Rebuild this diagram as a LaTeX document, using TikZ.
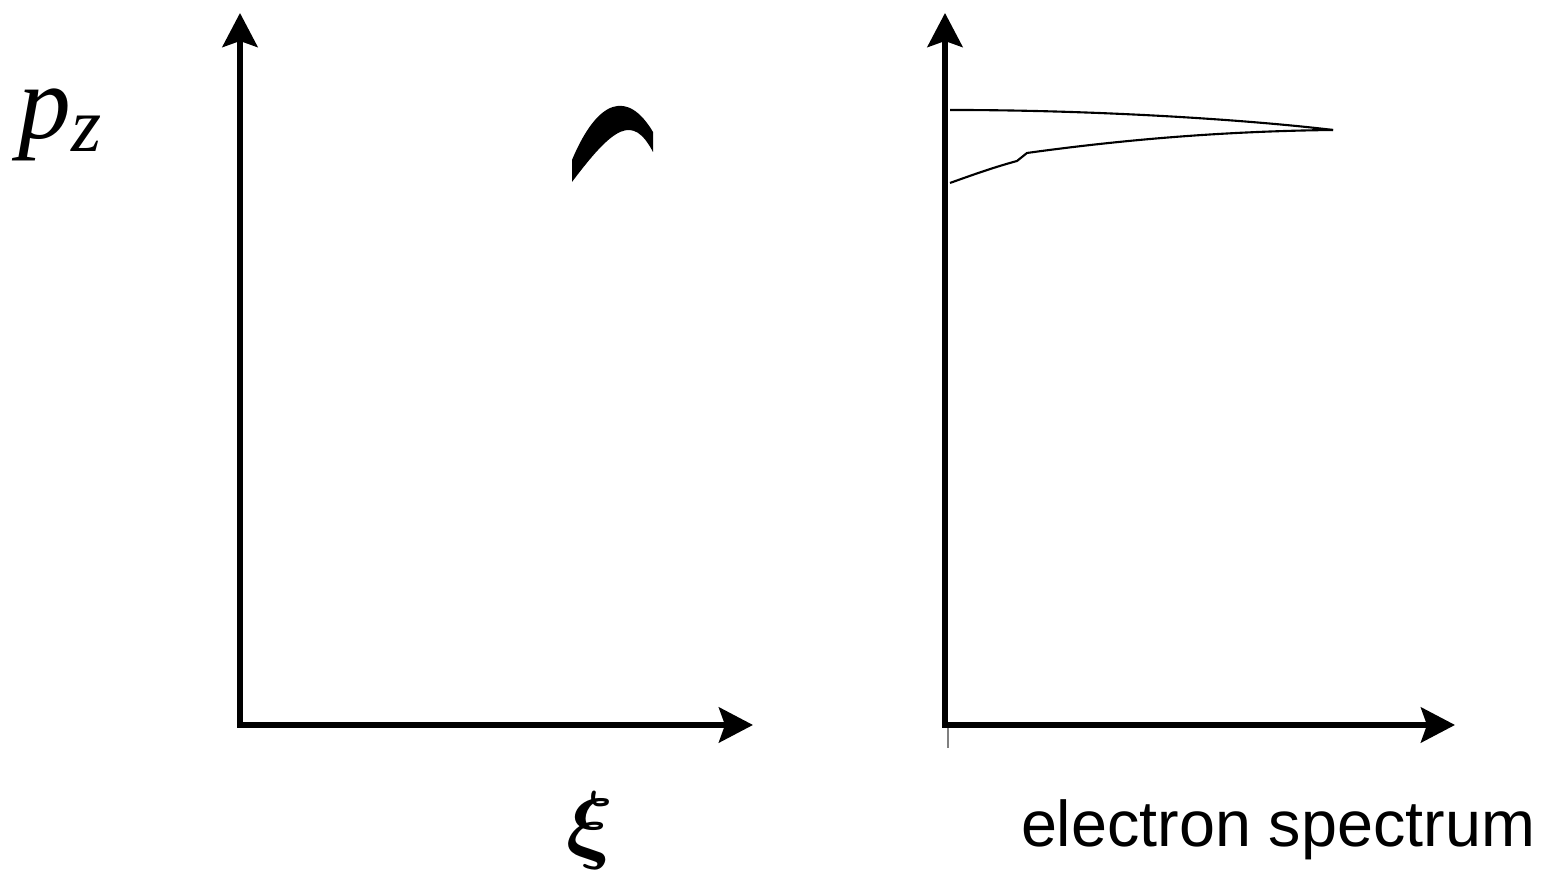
\documentclass[tikz,border=0pt]{standalone}
\usepackage{fontspec}
\usepackage{amsmath,amssymb}
\usepackage{bm}
\usepackage{tikz}
\usetikzlibrary{arrows.meta}
\newfontfamily\labelfont{Liberation Sans}
\newfontfamily\timesfont{Liberation Serif}
\tikzset{
  axis/.style={line width=0.06cm, {Stealth[length=0.34cm,width=0.35cm,inset=0.06cm]}-{Stealth[length=0.34cm,width=0.35cm,inset=0.06cm]}},
  spec/.style={line width=0.6pt},
}
\begin{document}
\begin{tikzpicture}
    \useasboundingbox (0,0) rectangle (15.47,8.76);
    % left panel
    \coordinate (ytipL) at (2.40,8.63);
    \coordinate (xtipL) at (7.53,1.51);
    \draw[axis] (ytipL) |- (xtipL);
    \fill (5.72,7.16) .. controls (5.98,7.78) and (6.28,7.86) .. (6.53,7.44)
        -- (6.53,7.24) .. controls (6.33,7.62) and (6.14,7.50) .. (5.72,6.94) -- cycle;
    \node (pz) at (0.60,7.51) {\timesfont\itshape\fontsize{30}{34}\selectfont p\raisebox{-0.12em}{\fontsize{22}{26}\selectfont z}};
    \node (xi) at (5.90,0.45) {\fontsize{25}{30}\selectfont $\bm{\xi}$};
    % right panel
    \coordinate (ytipR) at (9.45,8.63);
    \coordinate (xtipR) at (14.55,1.51);
    \draw[gray, line width=0.4pt] (9.48,1.51) -- (9.48,1.28);
    \draw[axis] (ytipR) |- (xtipR);
    \coordinate (tip) at (13.33,7.46);
    \draw[spec] (9.50,7.66) .. controls (11.0,7.66) and (12.5,7.56) .. (tip);
    \draw[spec] (9.50,6.93) .. controls (9.75,7.02) and (9.95,7.09) .. (10.17,7.15)
        -- (10.27,7.23) .. controls (11.5,7.40) and (12.5,7.45) .. (tip);
    \node (spectrum) at (12.78,0.46) {\labelfont\fontsize{18.4}{22}\selectfont electron spectrum};
\end{tikzpicture}
\end{document}
